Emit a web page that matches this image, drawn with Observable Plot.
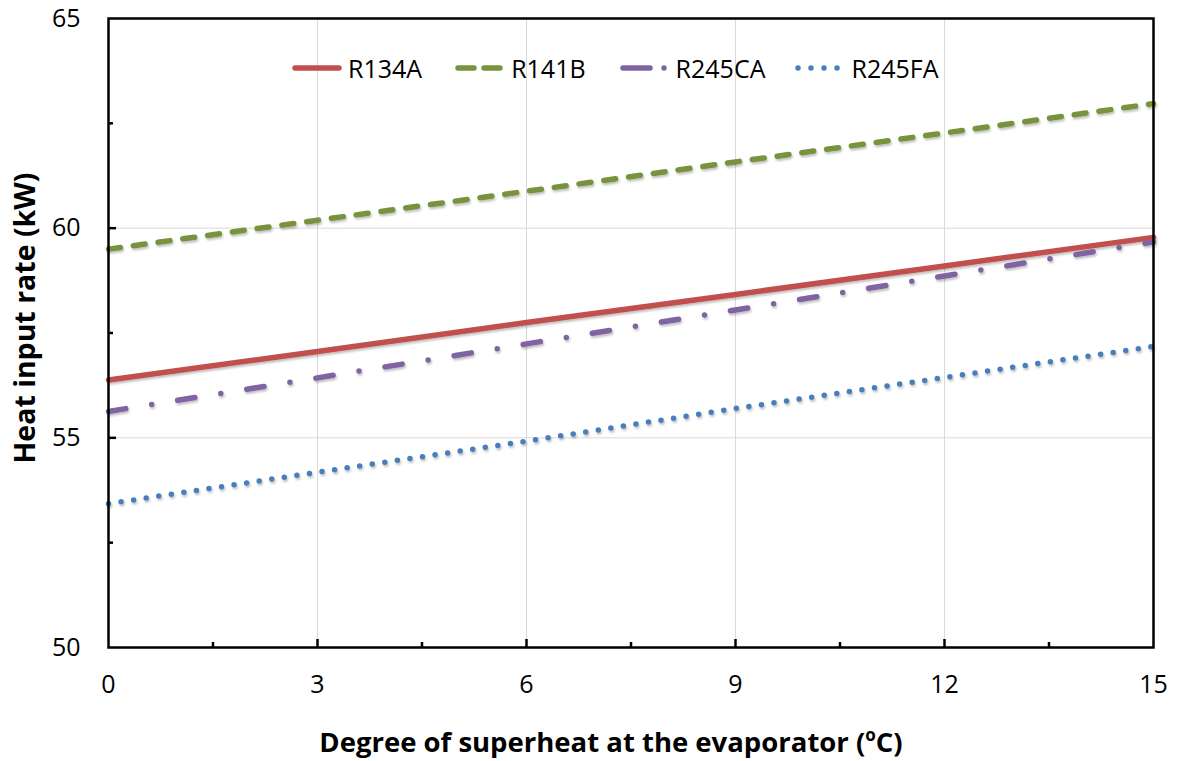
<!DOCTYPE html>
<html><head><meta charset="utf-8">
<script src="https://cdn.jsdelivr.net/npm/d3@7"></script>
<script src="https://cdn.jsdelivr.net/npm/@observablehq/plot@0.6"></script>
<style>
body{margin:0;background:#fff;}
#wrap{position:relative;width:1179px;height:761px;font-family:"Open Sans",sans-serif;color:#000;}
#legend{position:absolute;left:292px;top:48px;display:flex;align-items:center;font-size:25px;line-height:40px;}
#legend .item{display:flex;align-items:center;}
#legend svg{display:block;margin-right:6px;}
</style></head><body><div id="wrap"></div>
<script>
// Data
const superheat = [0, 3, 6, 9, 12, 15];
const R134A  = [56.38, 57.06, 57.75, 58.42, 59.10, 59.78];
const R141B  = [59.50, 60.19, 60.88, 61.58, 62.27, 62.97];
const R245CA = [55.63, 56.43, 57.24, 58.05, 58.86, 59.67];
const R245FA = [53.43, 54.18, 54.92, 55.70, 56.44, 57.18];
const seriesNames = ["R134A", "R141B", "R245CA", "R245FA"];
const xTicks = [0, 3, 6, 9, 12, 15];
const yTicks = [50, 55, 60, 65];
const xMinor = [1.5, 4.5, 7.5, 10.5, 13.5];
const yMinor = [52.5, 57.5, 62.5];

const values = {R134A, R141B, R245CA, R245FA};
const styles = {
  R134A:  {stroke:"#C0504D", dash:null},
  R141B:  {stroke:"#77933C", dash:"12,13"},
  R245CA: {stroke:"#8064A2", dash:"17.5,26.25,0,26.25"},
  R245FA: {stroke:"#4A7EBB", dash:"0,12.7"}
};
const rows = seriesNames.flatMap(s => superheat.map((x, i) => ({x, y: values[s][i], s})));

const lineMarks = seriesNames.map(s => Plot.line(rows.filter(d => d.s === s), {
  x: "x", y: "y", stroke: styles[s].stroke, strokeWidth: 5.5,
  strokeDasharray: styles[s].dash, strokeLinecap: "round"
}));

const chart = Plot.plot({
  width: 1179, height: 761,
  marginLeft: 108, marginRight: 26, marginTop: 18, marginBottom: 114,
  x: {domain: [0, 15]},
  y: {domain: [50, 65]},
  style: {fontFamily: "'Open Sans', sans-serif", fontSize: "25px", color: "#000", background: "#fff", overflow: "visible"},
  marks: [
    Plot.gridX(xTicks.slice(1, -1), {stroke: "#d9d9d9", strokeOpacity: 1, strokeWidth: 1}),
    Plot.gridY(yTicks.slice(1, -1), {stroke: "#d9d9d9", strokeOpacity: 1, strokeWidth: 1}),
    ...lineMarks,
    Plot.axisX({ticks: xTicks.slice(1, -1), tickSize: -8, text: null, label: null, strokeWidth: 2.5, stroke: "#000"}),
    Plot.axisX({ticks: xMinor, tickSize: -5, text: null, label: null, strokeWidth: 2.5, stroke: "#000"}),
    Plot.axisX({ticks: xTicks, tickSize: 0, tickPadding: 28, label: null, fontSize: 25, fill: "#000"}),
    Plot.axisY({ticks: yTicks.slice(1, -1), tickSize: -8, text: null, label: null, strokeWidth: 2.5, stroke: "#000"}),
    Plot.axisY({ticks: yMinor, tickSize: -5, text: null, label: null, strokeWidth: 2.5, stroke: "#000"}),
    Plot.axisY({ticks: yTicks, tickSize: 0, tickPadding: 28, label: null, fontSize: 25, fill: "#000"}),
    Plot.frame({stroke: "#000", strokeWidth: 2.5})
  ]
});

const svg = d3.select(chart);
// subtle shadow like the original
const defs = svg.insert("defs", ":first-child");
defs.append("filter").attr("id", "sh").attr("x", "-5%").attr("y", "-50%").attr("width", "110%").attr("height", "200%")
  .append("feDropShadow").attr("dx", 1).attr("dy", 2).attr("stdDeviation", 1.2).attr("flood-color", "#000").attr("flood-opacity", 0.25);
svg.selectAll('g[aria-label="line"] path').attr("filter", "url(#sh)");

// axis titles
svg.append("text").attr("x", 611).attr("y", 745).attr("text-anchor", "middle").attr("dominant-baseline", "middle")
  .attr("font-weight", "bold").attr("font-size", 27.5).attr("fill", "#000")
  .call(t => { t.append("tspan").text("Degree of superheat at the evaporator ("); t.append("tspan").attr("font-size", 17).attr("dy", -9).text("o"); t.append("tspan").attr("dy", 9).text("C)"); });
svg.append("text").attr("transform", "translate(27,318) rotate(-90)").attr("text-anchor", "middle").attr("dominant-baseline", "middle")
  .attr("font-weight", "bold").attr("font-size", 28.5).attr("fill", "#000").text("Heat input rate (kW)");

const wrap = document.getElementById("wrap");
wrap.appendChild(chart);

// legend
const legend = d3.select(wrap).append("div").attr("id", "legend");
const gaps = [0, 33, 34, 30];
seriesNames.forEach((s, i) => {
  const it = legend.append("div").attr("class", "item").style("margin-left", gaps[i] + "px");
  const sv = it.append("svg").attr("width", 50).attr("height", 14);
  let dash = styles[s].dash;
  if (s === "R245CA") dash = "27,14,0,20";
  sv.append("line").attr("x1", 3).attr("x2", 47).attr("y1", 7).attr("y2", 7)
    .attr("stroke", styles[s].stroke).attr("stroke-width", 5.5).attr("stroke-linecap", "round")
    .attr("stroke-dasharray", s === "R141B" ? "16,10" : s === "R245FA" ? "0,13" : dash);
  it.append("span").text(s);
});
</script></body></html>
